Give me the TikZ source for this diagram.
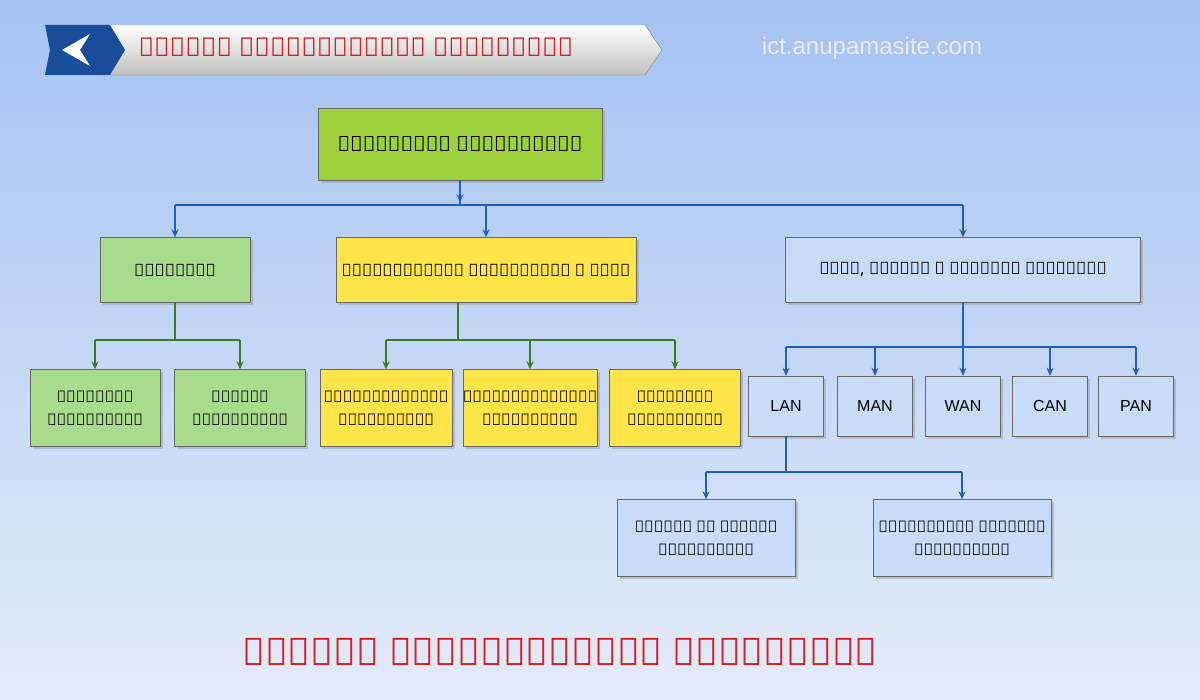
\documentclass[tikz,border=0pt]{standalone}
\usepackage{fontspec}
\setmainfont{Liberation Sans}
\newfontfamily\bn{Noto Sans}
\usetikzlibrary{shadows,arrows.meta}
\definecolor{bgtop}{HTML}{A4C2F2}
\definecolor{bgbot}{HTML}{E4ECFA}
\definecolor{grn}{HTML}{9CD13C}
\definecolor{lgrn}{HTML}{A9DB8C}
\definecolor{ylw}{HTML}{FFE547}
\definecolor{lblu}{HTML}{C8DCF8}
\definecolor{lnb}{HTML}{1F5FC0}
\definecolor{lng}{HTML}{3F7A1E}
\definecolor{ttl}{HTML}{D81E1E}
\tikzset{
  box/.style = {draw=black!60, drop shadow={opacity=.35}, align=center, font=\bn\fontsize{17}{23}\selectfont, inner sep=0pt},
  sm/.style = {box, font=\bn\fontsize{16}{23}\selectfont},
  arr/.style = {-{Stealth[length=8pt,width=7pt]}, line width=1.2pt}
}
\begin{document}
\begin{tikzpicture}[x=1pt, y=-1pt]
\shade[top color=bgtop, bottom color=bgbot] (0,0) rectangle (1200,700);
\useasboundingbox (0,0) rectangle (1200,700);
%banner
\shade[top color=white, bottom color=gray!50, draw=gray] (95,25) -- (645,25) -- (662,50) -- (645,75) -- (95,75) -- cycle;
\fill[lnb!80!black] (45,25) -- (110,25) -- (125,50) -- (110,75) -- (45,75) -- (50,50) -- cycle;
\fill[white] (62,50) -- (90,34) -- (80,50) -- (90,66) -- cycle;
\node[text=ttl, anchor=west, font=\bn\fontsize{26}{30}\selectfont] (btitle) at (135,47) {চিত্রঃ নেটওয়ার্কের প্রকারভেদ};
\node[text=white!92!blue, font=\fontsize{24}{28}\selectfont] (site) at (872,48) {ict.anupamasite.com};
%boxes
\node[box, fill=grn, minimum width=284, minimum height=72, font=\bn\bfseries\fontsize{21}{25}\selectfont] (root) at (460,144) {কম্পিউটার নেটওয়ার্ক};
\node[box, fill=lgrn, minimum width=150, minimum height=65] (own) at (175,270) {মালিকানা};
\node[box, fill=ylw, minimum width=300, minimum height=65] (ctrl) at (486,270) {নেটওয়ার্কের নিয়ন্ত্রণ ও সেবা};
\node[box, fill=lblu, minimum width=355, minimum height=65] (size) at (963,270) {আকার, দূরত্ব ও ভৌগোলিক বিস্তৃতি};
\node[sm, fill=lgrn, minimum width=130, minimum height=77] (priv) at (95,408) {প্রাইভেট\\নেটওয়ার্ক};
\node[sm, fill=lgrn, minimum width=131, minimum height=77] (pub) at (240,408) {পাবলিক\\নেটওয়ার্ক};
\node[sm, fill=ylw, minimum width=132, minimum height=77] (cent) at (386,408) {সেন্ট্রালাইজড\\নেটওয়ার্ক};
\node[sm, fill=ylw, minimum width=133, minimum height=77] (dist) at (530,408) {ডিস্ট্রিবিউটেড\\নেটওয়ার্ক};
\node[sm, fill=ylw, minimum width=131, minimum height=77] (hyb) at (675,408) {হাইব্রিড\\নেটওয়ার্ক};
\foreach \n/\x in {LAN/786, MAN/875, WAN/963, CAN/1050, PAN/1136}
  \node[box, fill=lblu, minimum width=75, minimum height=60, font=\rmfamily\fontsize{16}{20}\selectfont] (\n) at (\x,406) {\n};
\node[sm, fill=lblu, minimum width=178, minimum height=77] (peer) at (706,538) {পিয়ার টু পিয়ার\\নেটওয়ার্ক};
\node[sm, fill=lblu, minimum width=178, minimum height=77] (cli) at (962,538) {ক্লায়েন্ট সার্ভার\\নেটওয়ার্ক};
\node[text=ttl, font=\bn\fontsize{38}{44}\selectfont] (title) at (560,652) {চিত্রঃ নেটওয়ার্কের প্রকারভেদ};
%connectors
\draw[lnb, line width=1.2pt] (root.south) -- (root.south |- 0,205);
\draw[arr, lnb] (root.south) -- ++(0,22);
\draw[lnb, line width=1.2pt] (own.north |- 0,205) -- (size.north |- 0,205);
\foreach \b in {own, ctrl, size} \draw[arr, lnb] (\b.north |- 0,205) -- (\b);
\draw[lng, line width=1.2pt] (own) -- (own.south |- 0,340) (priv.north |- 0,340) -- (pub.north |- 0,340);
\foreach \b in {priv, pub} \draw[arr, lng] (\b.north |- 0,340) -- (\b);
\draw[lng, line width=1.2pt] (ctrl.south -| 458,0) -- (458,340) (cent.north |- 0,340) -- (hyb.north |- 0,340);
\foreach \b in {cent, dist, hyb} \draw[arr, lng] (\b.north |- 0,340) -- (\b);
\draw[lnb, line width=1.2pt] (size) -- (size.south |- 0,347) (LAN.north |- 0,347) -- (PAN.north |- 0,347);
\foreach \b in {LAN, MAN, WAN, CAN, PAN} \draw[arr, lnb] (\b.north |- 0,347) -- (\b);
\draw[lnb, line width=1.2pt] (LAN) -- (LAN.south |- 0,472) (peer.north |- 0,472) -- (cli.north |- 0,472);
\foreach \b in {peer, cli} \draw[arr, lnb] (\b.north |- 0,472) -- (\b);
\end{tikzpicture}
\end{document}
